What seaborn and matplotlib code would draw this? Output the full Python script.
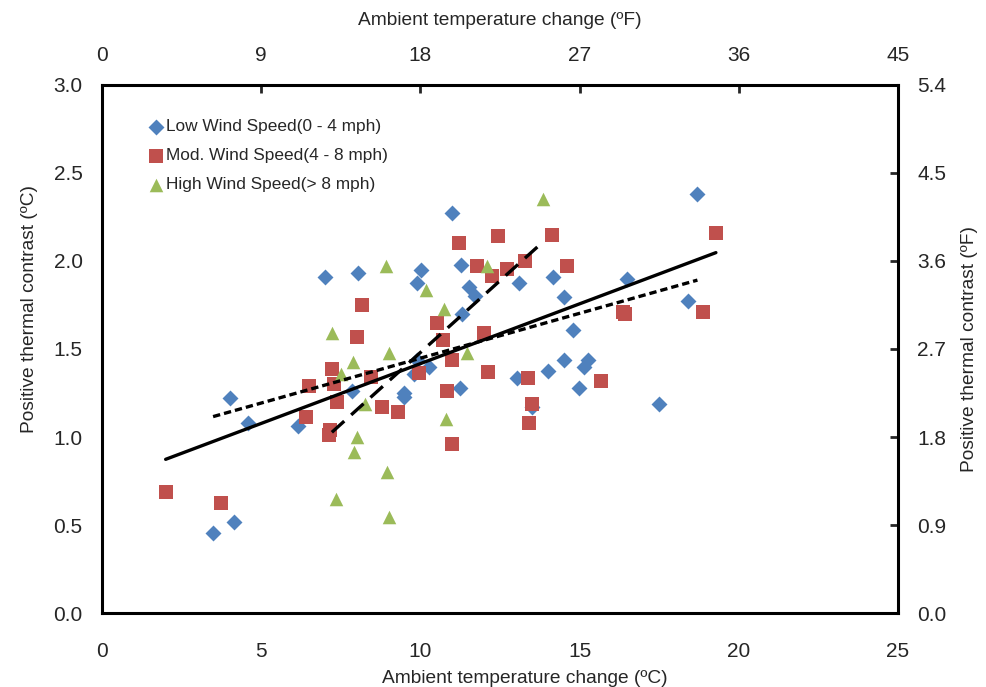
import matplotlib
matplotlib.use("Agg")
import matplotlib.pyplot as plt
import seaborn as sns
import pandas as pd

# values (deg C)
low_x = [3.49, 4.15, 4.02, 4.59, 6.16, 7.0, 8.04, 7.85, 9.9, 10.02, 9.9, 9.8, 10.27, 9.5, 9.5,
         11.0, 11.28, 11.53, 11.7, 11.3, 11.25, 13.1, 13.03, 13.5, 14.0, 14.17, 14.5, 14.5,
         14.8, 15.14, 15.26, 14.98, 16.5, 17.5, 18.4, 18.7]
low_y = [0.455, 0.517, 1.22, 1.08, 1.06, 1.91, 1.93, 1.26, 1.875, 1.95, 1.44, 1.36, 1.40, 1.25, 1.23,
         2.27, 1.98, 1.85, 1.80, 1.70, 1.28, 1.875, 1.335, 1.17, 1.375, 1.91, 1.795, 1.44,
         1.61, 1.40, 1.44, 1.28, 1.90, 1.19, 1.77, 2.38]

mod_x = [2.0, 3.74, 6.4, 6.5, 7.13, 7.16, 7.22, 7.29, 7.38, 8.0, 8.17, 8.45, 8.79, 9.3, 9.96,
         10.52, 10.7, 10.83, 11.0, 11.0, 11.2, 11.78, 12.0, 12.12, 12.25, 12.44, 12.72, 13.28,
         13.38, 13.4, 13.5, 14.13, 14.6, 15.67, 16.36, 16.42, 18.88, 19.28]
mod_y = [0.69, 0.625, 1.115, 1.29, 1.01, 1.04, 1.385, 1.30, 1.20, 1.57, 1.75, 1.34, 1.17, 1.14, 1.365,
         1.65, 1.55, 1.26, 1.44, 0.96, 2.10, 1.97, 1.59, 1.37, 1.915, 2.14, 1.955, 2.0,
         1.335, 1.08, 1.19, 2.15, 1.97, 1.32, 1.71, 1.70, 1.71, 2.16]

high_x = [7.22, 7.35, 7.5, 7.88, 7.9, 8.0, 8.26, 8.92, 8.95, 9.01, 9.01, 10.18, 10.74, 10.8,
          11.46, 12.09, 13.85]
high_y = [1.59, 0.65, 1.36, 1.425, 0.915, 1.0, 1.19, 1.97, 0.80, 1.48, 0.545, 1.835, 1.73, 1.10,
          1.48, 1.97, 2.35]

groups = ["Low Wind Speed(0 - 4 mph)", "Mod. Wind Speed(4 - 8 mph)", "High Wind Speed(> 8 mph)"]
colors = ["#4F81BD", "#C0504D", "#9BBB59"]
markers = ["D", "s", "^"]
sizes = [66, 95, 95]
trend_styles = [(0, (2.2, 1.2)), "-", (0, (5, 2.8))]

x_ticks_c = [0, 5, 10, 15, 20, 25]
x_ticks_f = [0, 9, 18, 27, 36, 45]
y_ticks_c = [0.0, 0.5, 1.0, 1.5, 2.0, 2.5, 3.0]
y_ticks_f = [0.0, 0.9, 1.8, 2.7, 3.6, 4.5, 5.4]


def main():
    frames = []
    for name, xs, ys in zip(groups, [low_x, mod_x, high_x], [low_y, mod_y, high_y]):
        frames.append(pd.DataFrame({"dT": xs, "contrast": ys, "wind": name}))
    data = pd.concat(frames, ignore_index=True)

    sns.set_style("white")
    plt.rcParams["font.family"] = ["Liberation Sans", "DejaVu Sans"]

    fig = plt.figure(figsize=(9.86, 6.87), dpi=100)
    ax = fig.add_axes([0.1034, 0.1077, 0.8074, 0.7686])

    for name, col, mk, sz in zip(groups, colors, markers, sizes):
        sub = data[data.wind == name]
        ax.scatter(sub.dT, sub.contrast, marker=mk, s=sz, color=col, linewidths=0, label=name, zorder=2)

    # linear trend line for each wind group
    for name, ls in zip(groups, trend_styles):
        sub = data[data.wind == name]
        sns.regplot(data=sub, x="dT", y="contrast", ax=ax, scatter=False, ci=None, truncate=True,
                    line_kws={"color": "black", "lw": 2.4, "ls": ls, "zorder": 3})

    ax.set_xlim(0, 25)
    ax.set_ylim(0, 3)
    ax.set_xticks(x_ticks_c)
    ax.set_yticks(y_ticks_c)
    ax.set_yticklabels([f"{v:.1f}" for v in y_ticks_c])
    ax.set_xlabel("Ambient temperature change (ºC)", fontsize=13.8, labelpad=6)
    ax.set_ylabel("Positive thermal contrast (ºC)", fontsize=13.8, labelpad=11)
    ax.xaxis.label.set_x(0.531)
    ax.yaxis.label.set_y(0.576)
    ax.tick_params(axis="x", direction="in", length=6, width=2, labelsize=15, pad=21)
    ax.tick_params(axis="y", direction="in", length=6, width=2, labelsize=15, pad=14)
    for sp in ax.spines.values():
        sp.set_linewidth(2.2)
        sp.set_color("black")

    top = ax.secondary_xaxis("top", functions=(lambda c: c * 1.8, lambda f: f / 1.8))
    top.set_xticks(x_ticks_f)
    top.set_xlabel("Ambient temperature change (ºF)", fontsize=13.8, labelpad=15)
    top.tick_params(direction="in", length=6, width=2, labelsize=15, pad=14.5)

    right = ax.secondary_yaxis("right", functions=(lambda c: c * 1.8, lambda f: f / 1.8))
    right.set_yticks(y_ticks_f)
    right.set_yticklabels([f"{v:.1f}" for v in y_ticks_f])
    right.set_ylabel("Positive thermal contrast (ºF)", fontsize=13.8, labelpad=10)
    right.tick_params(direction="in", length=6, width=2, labelsize=15, pad=14)

    ax.legend(loc="upper left", bbox_to_anchor=(0.05, 0.948), frameon=False, fontsize=12.4,
              handlelength=0.8, handletextpad=0.2, labelspacing=0.8, borderaxespad=0)

    fig.savefig("out.png", dpi=100)


if __name__ == "__main__":
    main()
